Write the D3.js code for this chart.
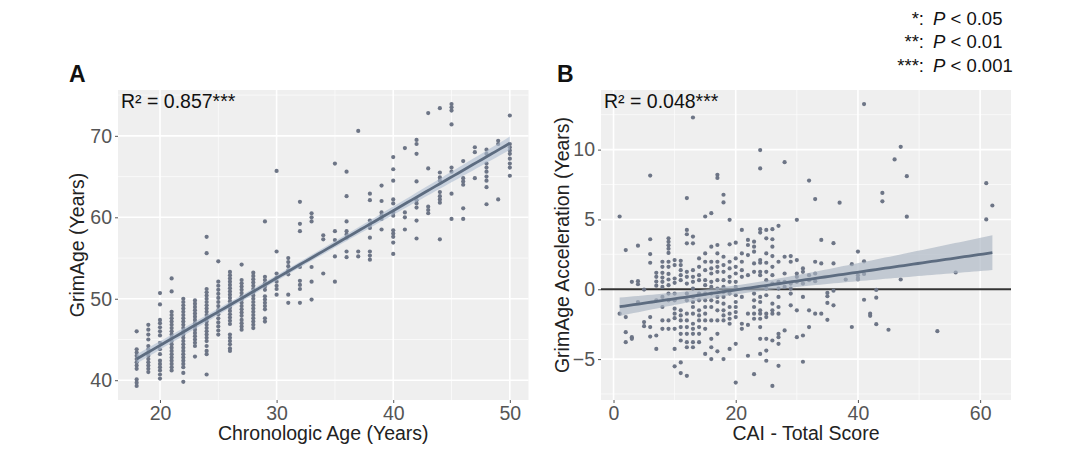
<!DOCTYPE html>
<html><head><meta charset="utf-8">
<script src="https://cdn.jsdelivr.net/npm/d3@7"></script>
<style>
body{margin:0;background:#fff;}
svg{display:block;font-family:"Liberation Sans",Arial,Helvetica,sans-serif;}
</style></head>
<body><svg id="c" width="1080" height="454"></svg>
<script>
// ---------- Panel A data: chronological age vs GrimAge ----------
const agesA = [18,19,20,21,22,23,24,25,26,27,28,29,30,31,32,33,34,35,36,37,38,39,40,41,42,43,44,45,46,47,48,49,50];
const grimAgeA = [
 [46.0,43.8,43.4,43.0,42.6,42.2,41.8,41.4,40.1,39.7,39.3],
 [46.8,46.2,45.6,45.0,44.2,43.8,43.4,43.0,42.6,42.2,41.8,41.4,41.0],
 [50.7,49.3,47.4,47.0,46.5,46.0,45.5,44.6,43.8,43.2,42.4,42.0,41.6,41.2,40.7,40.2],
 [52.5,50.9,48.4,48.0,47.6,47.2,46.8,46.4,46.0,45.6,45.2,44.8,44.4,44.0,43.6,43.2,42.8,42.4,42.0,41.6,41.2],
 [50.0,49.6,49.2,48.8,48.4,48.0,47.6,47.2,46.8,46.4,46.0,45.6,45.2,44.8,44.4,44.0,43.6,43.2,42.8,42.4,42.0,41.6,40.9,39.8],
 [49.8,49.4,49.0,48.6,48.2,47.8,47.4,47.0,46.6,46.2,45.8,45.4,45.0,44.6,44.2,42.9],
 [57.6,55.6,51.2,50.8,50.4,50.0,49.6,49.2,48.8,48.4,48.0,47.6,47.2,46.8,46.4,46.0,45.6,45.2,44.8,44.2,43.6,43.2,40.7],
 [54.6,52.1,51.6,51.1,50.6,50.1,49.6,49.1,48.6,48.1,47.6,47.1,46.6,46.1,45.6],
 [53.3,52.9,52.5,52.1,51.7,51.3,50.9,50.5,50.1,49.7,49.3,48.9,48.5,48.1,47.7,47.3,46.9,45.6,45.2,44.8,44.4,43.9,43.6],
 [54.2,52.3,51.9,51.5,51.1,50.7,50.3,49.9,49.5,49.1,48.7,48.3,47.9,47.4,47.0,46.6,46.2],
 [53.2,52.8,52.4,52.0,51.6,51.2,50.8,50.4,50.0,49.6,49.2,48.8,48.4,48.0,47.6,47.2,46.8,46.4],
 [59.5,52.7,52.3,51.9,51.5,51.1,50.3,49.9,49.5,49.1,48.7,47.6,47.2],
 [65.7,55.8,53.1,52.6,52.1,51.6,51.2,50.5],
 [55.0,54.5,54.0,53.5,53.0,50.5,49.5],
 [61.9,59.2,58.3,53.9,52.2,51.7,51.2,49.5],
 [60.5,60.0,59.5,53.9,52.1,49.9],
 [57.8,57.3,53.1],
 [66.6,58.3,57.2,55.2,52.1],
 [65.6,62.6,59.5,58.3,57.9,57.5,55.8,55.1],
 [70.6,55.8,55.2],
 [62.9,62.1,59.6,59.1,58.7,57.5,55.8,55.3,54.8],
 [63.9,62.0,60.6,60.2,59.8,58.5],
 [67.4,65.9,64.5,62.2,61.7,60.6,60.2,58.4,58.0,57.6,56.9,55.5],
 [68.5,60.6,60.0,58.5],
 [69.5,69.0,67.8,64.4,62.1,61.7,61.2,59.6,57.4],
 [72.8,66.0,61.3,60.9,60.5],
 [73.4,65.5,64.9,64.5,63.1,62.6,62.2,61.8,57.3],
 [73.9,73.5,73.1,71.4,66.1,65.6,62.9,59.8],
 [66.9,64.8,64.4,64.0,61.1,59.8],
 [68.6,68.0,64.8],
 [68.3,67.8,66.6,66.1,65.6,65.0,64.5,63.7,61.6],
 [69.4,69.0,62.2],
 [72.5,69.0,68.6,68.2,67.8,67.2,66.6,66.1,65.1]
];
const xTicksA = [20,30,40,50];
const yTicksA = [40,50,60,70];

// ---------- Panel B data: CAI total score vs GrimAge acceleration ----------
const caiB = [1,2,3,4,5,6,7,8,9,10,11,12,13,14,15,16,17,18,19,20,21,22,23,24,25,26,27,28,29,30,31,32,33,34,35,36,37,38,39,40,41,42,43,44,45,46,47,48,53,56,61,62];
const accelB = [
 [5.21,-1.75],
 [2.81,-1.99,-3.07,-3.79],
 [0.53,-3.43,-3.55],
 [3.12,0.58,0.36,-0.91],
 [-0.02,-2.35,-2.64],
 [8.14,3.58,2.52,1.9,-1.99,-2.71,-3.39],
 [1.18,0.89,0.55,0.26,-0.79,-3.31,-4.27],
 [1.97,1.61,1.18,0.84,0.53,0.17,-0.55,-1.27,-2.23,-2.83],
 [3.65,3.4,3.15,2.9,2.6,1.97,1.61,1.1,0.7,0.29,-0.31,-0.79,-2.23,-2.83],
 [2.09,1.73,0.77,0.46,-0.31,-0.79,-1.39,-1.75,-2.07,-2.83,-4.27,-5.52],
 [2.04,1.73,1.37,1.01,0.65,-1.51,-1.87,-2.23,-2.71,-3.19,-3.67,-5.24,-6.0],
 [6.53,4.25,3.94,3.29,1.25,0.89,0.41,-0.31,-0.79,-1.75,-2.23,-2.71,-3.19,-3.79,-4.15,-6.2],
 [12.3,3.77,3.29,1.37,0.89,0.53,0.05,-0.55,-0.91,-1.27,-1.75,-2.47,-2.83,-3.19,-3.79,-4.15],
 [2.21,1.61,1.01,0.65,-0.31,-0.79,-1.51,-1.87,-2.23,-2.71,-3.19,-3.79],
 [5.21,2.57,1.97,1.37,0.65,0.29,-0.31,-0.79,-1.27,-1.75,-2.23,-2.83,-4.63],
 [5.45,3.05,1.97,1.49,1.13,0.53,0.17,-0.31,-0.79,-1.27,-2.23,-3.55,-4.15,-5.0],
 [8.2,7.97,3.17,2.57,1.97,1.61,1.25,0.65,0.05,-0.55,-0.91,-1.51,-2.23,-3.19,-4.44],
 [6.77,6.22,2.33,1.73,1.25,0.65,0.17,-0.19,-0.55,-1.03,-1.51,-1.87,-2.23,-5.0],
 [4.97,3.22,1.97,1.49,0.89,0.53,-0.31,-1.27,-1.75,-2.11,-2.47,-4.27],
 [3.34,2.21,1.61,1.13,0.53,0.17,-0.43,-0.91,-1.27,-1.63,-1.99,-3.91,-6.68],
 [4.25,2.57,1.97,1.37,0.89,-0.55,-2.47,-2.83],
 [3.53,3.17,2.45,1.01,-1.75,-2.55,-4.76],
 [3.41,3.05,2.69,1.85,1.25,-0.31,-0.79,-1.27,-1.75,-2.11,-6.08],
 [9.97,8.65,4.3,4.06,2.09,1.9,1.25,1.01,-0.55,-0.91,-1.51,-1.75,-2.11,-2.71,-3.55,-4.63],
 [4.25,3.65,2.57,1.9,1.25,0.65,0.05,-0.43,-1.75,-1.99,-3.55,-4.39,-5.12],
 [4.3,3.58,3.05,2.38,1.61,1.01,0.41,-1.03,-1.51,-1.75,-3.67,-6.92],
 [4.54,1.97,0.53,0.05,-0.55,-1.27,-1.75,-3.19,-3.43,-3.91,-5.48],
 [9.1,2.33,1.13,0.53,0.17,-2.95],
 [2.38,1.97,0.41,0.05,-0.31,-1.15],
 [4.97,2.09,1.13,0.89,0.53,-1.51,-3.43],
 [1.49,1.25,0.41,-0.55,-3.31,-5.19],
 [7.78,1.01,0.65,-1.51,-2.71],
 [6.46,1.97,1.13,0.58,-1.75],
 [3.53,1.85,-1.75],
 [-0.26,-0.5,-0.98,-2.19],
 [3.3,1.85,-0.1,-1.15],
 [6.2],
 [0.7],
 [1.8,-2.7],
 [2.7,1.0,0.8,0.7],
 [13.26,2.0,1.1,-0.75],
 [-1.75,-1.9],
 [-0.05,-0.6,-2.5],
 [6.9,6.3],
 [-2.9],
 [9.3],
 [10.2,0.7],
 [8.1,5.2],
 [-3.0],
 [1.2],
 [7.6,5.0],
 [6.0]
];
const xTicksB = [0,20,40,60];
const yTicksB = [-5,0,5,10];
// fitted line of panel B (CAI score, fitted acceleration)
const fitLineB = [[1,-1.25],[62,2.62]];

const labelsText = {A:"R² = 0.857***", B:"R² = 0.048***"};
const sigStars = ["*:","**:","***:"];
const sigText = ["P < 0.05","P < 0.01","P < 0.001"];

// ---------- drawing ----------
const svg = d3.select("#c");
svg.append("rect").attr("width",1080).attr("height",454).attr("fill","#fff");

function flatten(xs, ys){ const out=[]; xs.forEach((x,i)=>ys[i].forEach(y=>out.push([x,y]))); return out; }

function olsBand(pts, x0, x1, fixed){
  const n=pts.length, mx=d3.mean(pts,d=>d[0]), my=d3.mean(pts,d=>d[1]);
  let sxx=0, sxy=0; pts.forEach(([x,y])=>{sxx+=(x-mx)**2; sxy+=(x-mx)*(y-my);});
  let b=sxy/sxx, a=my-b*mx;
  let sse=0; pts.forEach(([x,y])=>{sse+=(y-a-b*x)**2;});
  const s=Math.sqrt(sse/(n-2)), t=1.966;
  let cx=mx;
  if(fixed){ b=(fixed[1][1]-fixed[0][1])/(fixed[1][0]-fixed[0][0]); a=fixed[0][1]-b*fixed[0][0]; cx=-a/b; }
  return d3.range(0,81).map(i=>{const x=x0+(x1-x0)*i/80; const yh=a+b*x; const se=s*Math.sqrt(1/n+(x-cx)**2/sxx); return {x, y:yh, lo:yh-t*se, hi:yh+t*se};});
}

function panel(opt){
  const {L,R,T,B,pts,xTicks,yTicks,xMinor,yMinor,xTitle,yTitle,yTitleX,letter,letterX,r2,hline,bandFill,bandOp,fixed} = opt;
  const xe=d3.extent(pts,d=>d[0]), ye=d3.extent(pts,d=>d[1]);
  const xp=(xe[1]-xe[0])*0.05, yp=(ye[1]-ye[0])*0.05;
  const x=d3.scaleLinear().domain([xe[0]-xp,xe[1]+xp]).range([L,R]);
  const y=d3.scaleLinear().domain([ye[0]-yp,ye[1]+yp]).range([B,T]);
  const g=svg.append("g");
  g.append("rect").attr("x",L).attr("y",T).attr("width",R-L).attr("height",B-T).attr("fill","#efefef");
  g.selectAll(".mx").data(xMinor).join("line").attr("x1",d=>x(d)).attr("x2",d=>x(d)).attr("y1",T).attr("y2",B).attr("stroke","#fbfbfb").attr("stroke-width",0.8);
  g.selectAll(".my").data(yMinor).join("line").attr("y1",d=>y(d)).attr("y2",d=>y(d)).attr("x1",L).attr("x2",R).attr("stroke","#fbfbfb").attr("stroke-width",0.8);
  g.selectAll(".gx").data(xTicks).join("line").attr("x1",d=>x(d)).attr("x2",d=>x(d)).attr("y1",T).attr("y2",B).attr("stroke","#fff").attr("stroke-width",1.6);
  g.selectAll(".gy").data(yTicks).join("line").attr("y1",d=>y(d)).attr("y2",d=>y(d)).attr("x1",L).attr("x2",R).attr("stroke","#fff").attr("stroke-width",1.6);
  if(hline!==undefined){
    g.append("line").attr("x1",L).attr("x2",R).attr("y1",y(hline)).attr("y2",y(hline)).attr("stroke","#333").attr("stroke-width",1.8);
  }
  g.selectAll(".pt").data(pts).join("circle").attr("cx",d=>x(d[0])).attr("cy",d=>y(d[1])).attr("r",2.1).attr("fill","#6d7586");
  const band=olsBand(pts,xe[0],xe[1],fixed);
  g.append("path").datum(band).attr("d",d3.area().x(d=>x(d.x)).y0(d=>y(d.lo)).y1(d=>y(d.hi))).attr("fill",bandFill).attr("opacity",bandOp);
  g.append("path").datum(band).attr("d",d3.line().x(d=>x(d.x)).y(d=>y(d.y))).attr("fill","none").attr("stroke","#5d6c80").attr("stroke-width",2.8);
  const ax=g.append("g").attr("transform",`translate(0,${B})`).call(d3.axisBottom(x).tickValues(xTicks).tickSize(3).tickPadding(3).tickFormat(d3.format("d")));
  const ay=g.append("g").attr("transform",`translate(${L},0)`).call(d3.axisLeft(y).tickValues(yTicks).tickSize(3).tickPadding(3).tickFormat(d=>d<0?"\u2212"+Math.abs(d):d));
  [ax,ay].forEach(a=>{a.select(".domain").remove(); a.selectAll("line").attr("stroke","#555");
    a.selectAll("text").attr("fill","#555").style("font-size","19.5px").style("font-family","Liberation Sans, Arial, sans-serif");});
  g.append("text").attr("x",(L+R)/2).attr("y",440).attr("text-anchor","middle").attr("font-size",19.5).attr("fill","#222").text(xTitle);
  g.append("text").attr("transform",`translate(${yTitleX},${(T+B)/2}) rotate(-90)`).attr("text-anchor","middle").attr("font-size",19.5).attr("fill","#222").text(yTitle);
  g.append("text").attr("x",L+3).attr("y",108).attr("font-size",19.5).attr("fill","#111").text(r2);
  g.append("text").attr("x",letterX).attr("y",82).attr("font-size",23).attr("font-weight","bold").attr("fill","#111").text(letter);
}

panel({L:118,R:528.5,T:90,B:400,pts:flatten(agesA,grimAgeA),xTicks:xTicksA,yTicks:yTicksA,xMinor:[25,35,45],yMinor:[45,55,65,75],
  xTitle:"Chronologic Age (Years)",yTitle:"GrimAge (Years)",yTitleX:84,letter:"A",letterX:69,r2:labelsText.A,bandFill:"#aebdd0",bandOp:0.6});
panel({L:601,R:1011,T:90,B:400,pts:flatten(caiB,accelB),xTicks:xTicksB,yTicks:yTicksB,xMinor:[10,30,50],yMinor:[-7.5,-2.5,2.5,7.5,12.5],
  xTitle:"CAI - Total Score",yTitle:"GrimAge Acceleration (Years)",yTitleX:569,letter:"B",letterX:557,r2:labelsText.B,hline:0,bandFill:"#a9b4c1",bandOp:0.65,fixed:fitLineB});

const leg=svg.append("g");
sigStars.forEach((s,i)=>{
  const yy=25+i*23.3;
  leg.append("text").attr("x",924).attr("y",yy).attr("text-anchor","end").attr("font-size",18.5).attr("fill","#111").text(s);
  const t=leg.append("text").attr("x",933).attr("y",yy).attr("font-size",18.5).attr("fill","#111");
  t.append("tspan").attr("font-style","italic").text("P");
  t.append("tspan").text(sigText[i].slice(1));
});
</script></body></html>
